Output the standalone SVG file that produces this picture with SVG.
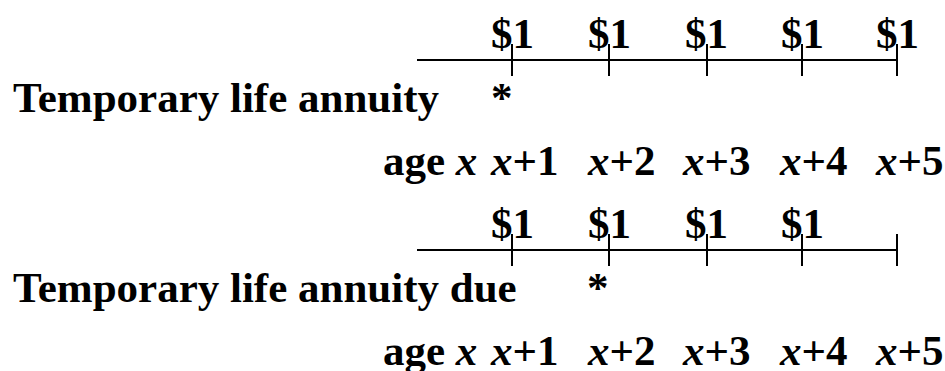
<svg xmlns="http://www.w3.org/2000/svg" width="945" height="371" viewBox="0 0 945 371">
<style>
text{font-family:"Liberation Serif","Times New Roman",serif;font-weight:bold;font-size:43px;fill:#000}
.i{font-style:italic}
line{stroke:#000;stroke-width:2}
</style>
<rect width="945" height="371" fill="#fff"/>
<g id="annuity">
<g id="connectors1">
<line x1="417" y1="60" x2="897" y2="60"/>
<line x1="512" y1="44" x2="512" y2="76"/>
<line x1="609" y1="44" x2="609" y2="76"/>
<line x1="707" y1="44" x2="707" y2="76"/>
<line x1="802" y1="44" x2="802" y2="76"/>
<line x1="897" y1="44" x2="897" y2="76"/>
</g>
<text x="491" y="48">$1</text>
<text x="588" y="48">$1</text>
<text x="685" y="48">$1</text>
<text x="781" y="48">$1</text>
<text x="876" y="48">$1</text>
<text x="13" y="112">Temporary life annuity</text>
<text x="491" y="112">*</text>
<text x="383" y="175">age <tspan class="i">x</tspan></text>
<text x="491" y="175"><tspan class="i">x</tspan>+1</text>
<text x="588" y="175"><tspan class="i">x</tspan>+2</text>
<text x="683" y="175"><tspan class="i">x</tspan>+3</text>
<text x="780" y="175"><tspan class="i">x</tspan>+4</text>
<text x="876" y="175"><tspan class="i">x</tspan>+5</text>
</g>
<g id="annuity-due">
<g id="connectors2">
<line x1="417" y1="250" x2="897" y2="250"/>
<line x1="512" y1="234" x2="512" y2="266"/>
<line x1="609" y1="234" x2="609" y2="266"/>
<line x1="707" y1="234" x2="707" y2="266"/>
<line x1="802" y1="234" x2="802" y2="266"/>
<line x1="897" y1="234" x2="897" y2="266"/>
</g>
<text x="491" y="238">$1</text>
<text x="588" y="238">$1</text>
<text x="685" y="238">$1</text>
<text x="781" y="238">$1</text>
<text x="13" y="302">Temporary life annuity due</text>
<text x="587" y="302">*</text>
<text x="383" y="365">age <tspan class="i">x</tspan></text>
<text x="491" y="365"><tspan class="i">x</tspan>+1</text>
<text x="588" y="365"><tspan class="i">x</tspan>+2</text>
<text x="683" y="365"><tspan class="i">x</tspan>+3</text>
<text x="780" y="365"><tspan class="i">x</tspan>+4</text>
<text x="876" y="365"><tspan class="i">x</tspan>+5</text>
</g>
</svg>
